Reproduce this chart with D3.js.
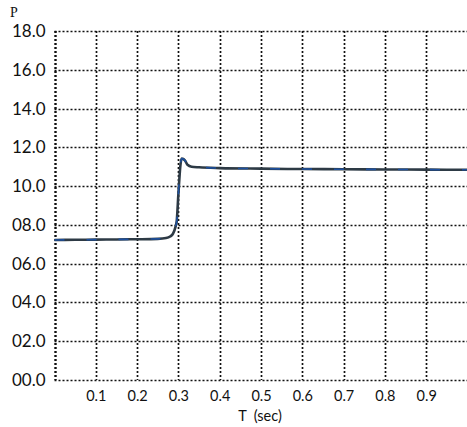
<!DOCTYPE html>
<html><head><meta charset="utf-8">
<script src="https://cdn.jsdelivr.net/npm/d3@7"></script>
<style>body{margin:0;background:#fff}svg{display:block}</style>
</head><body>
<svg id="c" width="467" height="427"></svg>
<script>
const time = [0, 0.05, 0.1, 0.15, 0.2, 0.25, 0.27, 0.28, 0.287, 0.293, 0.296, 0.3, 0.305, 0.308, 0.312, 0.316, 0.322, 0.332, 0.35, 0.4, 0.5, 0.6, 0.7, 0.8, 0.9, 1.0];
const power = [7.22, 7.23, 7.24, 7.25, 7.26, 7.28, 7.32, 7.4, 7.55, 7.9, 8.2, 9.6, 11.1, 11.42, 11.4, 11.32, 11.1, 11.0, 10.97, 10.93, 10.9, 10.88, 10.87, 10.86, 10.85, 10.84];
const xTicks = [0.1, 0.2, 0.3, 0.4, 0.5, 0.6, 0.7, 0.8, 0.9];
const yTicks = [0, 2, 4, 6, 8, 10, 12, 14, 16, 18];
const xTickLabels = ["0.1","0.2","0.3","0.4","0.5","0.6","0.7","0.8","0.9"];
const yTickLabels = ["00.0","02.0","04.0","06.0","08.0","10.0","12.0","14.0","16.0","18.0"];

const svg = d3.select("#c");
const L = 54.5, R = 467.5, T = 31, B = 380;
const x = d3.scaleLinear().domain([0, 1.0]).range([L, R]);
const y = d3.scaleLinear().domain([0, 18]).range([B, T]);

const grid = svg.append("g").attr("stroke", "#111").attr("stroke-width", 1.7).attr("stroke-dasharray", "2,2").attr("fill", "none");
grid.selectAll("line.h").data(yTicks).join("line")
  .attr("x1", L).attr("x2", R).attr("y1", d => Math.round(y(d)) + 0.5).attr("y2", d => Math.round(y(d)) + 0.5);
grid.selectAll("line.v").data([0].concat(xTicks)).join("line")
  .attr("y1", T).attr("y2", B).attr("x1", d => Math.round(x(d)) + 0.5).attr("x2", d => Math.round(x(d)) + 0.5)
  .attr("stroke-width", d => d === 0 ? 2.4 : 1.7);

const yAxis = d3.axisLeft(y).tickValues(yTicks).tickFormat((d, i) => yTickLabels[i]).tickSize(0).tickPadding(9);
const gy = svg.append("g").attr("transform", `translate(${L},0)`).call(yAxis);
gy.select(".domain").remove();
gy.selectAll("text").attr("font-family", "Lato, 'Open Sans', sans-serif").attr("font-size", 17).attr("fill", "#111");

const xAxis = d3.axisBottom(x).tickValues(xTicks).tickFormat((d, i) => xTickLabels[i]).tickSize(0).tickPadding(11);
const gx = svg.append("g").attr("transform", `translate(0,${B})`).call(xAxis);
gx.select(".domain").remove();
gx.selectAll("text").attr("font-family", "Lato, 'Open Sans', sans-serif").attr("font-size", 14.5).attr("fill", "#111");

svg.append("text").attr("x", 10).attr("y", 17).attr("font-family", "'Liberation Serif', serif").attr("font-size", 14).attr("fill", "#111").text("P");
svg.append("text").attr("x", 260).attr("y", 421).attr("text-anchor", "middle").attr("font-family", "Lato, 'Open Sans', sans-serif").attr("font-size", 14.5).attr("fill", "#111").attr("xml:space", "preserve").text("T  (sec)");

const line = d3.line().x((d, i) => x(time[i])).y(d => y(d)).curve(d3.curveMonotoneX);
svg.append("path").datum(power).attr("d", line).attr("fill", "none").attr("stroke", "#2d3a45").attr("stroke-width", 2.6);
svg.append("path").datum(power).attr("d", line).attr("fill", "none").attr("stroke", "#1d4f9c").attr("stroke-width", 1.6).attr("stroke-dasharray", "10,22");
</script>
</body></html>
